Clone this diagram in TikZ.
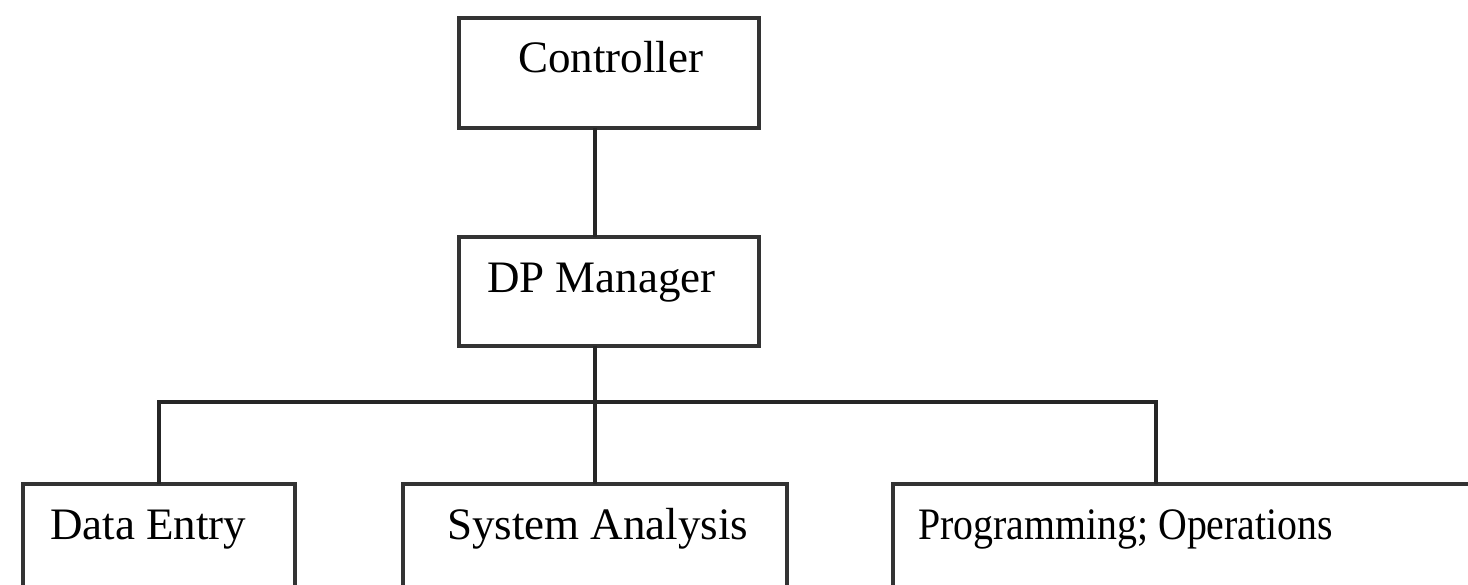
\documentclass[tikz,border=0pt]{standalone}
\usepackage{fontspec}
\setmainfont{Liberation Serif}
\usetikzlibrary{calc}
\begin{document}
\begin{tikzpicture}[x=1pt,y=-1pt,
    unit/.style={draw=black!80, line width=3.5pt, rectangle, inner sep=0pt,
      outer sep=0pt, anchor=north west},
    caption/.style={anchor=base west, inner sep=0pt,
      font=\fontsize{45}{54}\selectfont},
    link/.style={draw=black!85, line width=3.5pt}]
  \useasboundingbox (0,0) rectangle (1468,585);
  \clip (0,0) rectangle (1468,585);
  % boxes
  \node[unit, minimum width=300pt, minimum height=110pt] (ctrl) at (459,18) {};
  \node[unit, minimum width=300pt, minimum height=109pt] (dpm) at (459,237) {};
  \node[unit, minimum width=272pt, minimum height=160pt] (entry) at (23,484) {};
  \node[unit, minimum width=384pt, minimum height=160pt] (analysis) at (403,484) {};
  \node[unit, minimum width=620pt, minimum height=160pt] (progops) at (893,484) {};
  % texts
  \node[caption] (ctrltext) at (518,73) {Controller};
  \node[caption] (dpmtext) at (487,293) {DP Manager};
  \node[caption] (entrytext) at (50,539) {Data Entry};
  \node[caption] (analysistext) at (447,539) {System Analysis};
  \node[caption] (progopstext) at (918,539) {\scalebox{0.885}[1]{Programming; Operations}};
  \coordinate (progtap) at (1156,402);
  % connectors
  \begin{scope}[link]
    \draw (ctrl.south -| analysis.north) to (dpm.north -| analysis.north);
    \draw (dpm.south -| analysis.north) to (analysis.north);
    \draw (entry.north) |- (progtap) to (progops.north -| progtap);
  \end{scope}
\end{tikzpicture}
\end{document}
